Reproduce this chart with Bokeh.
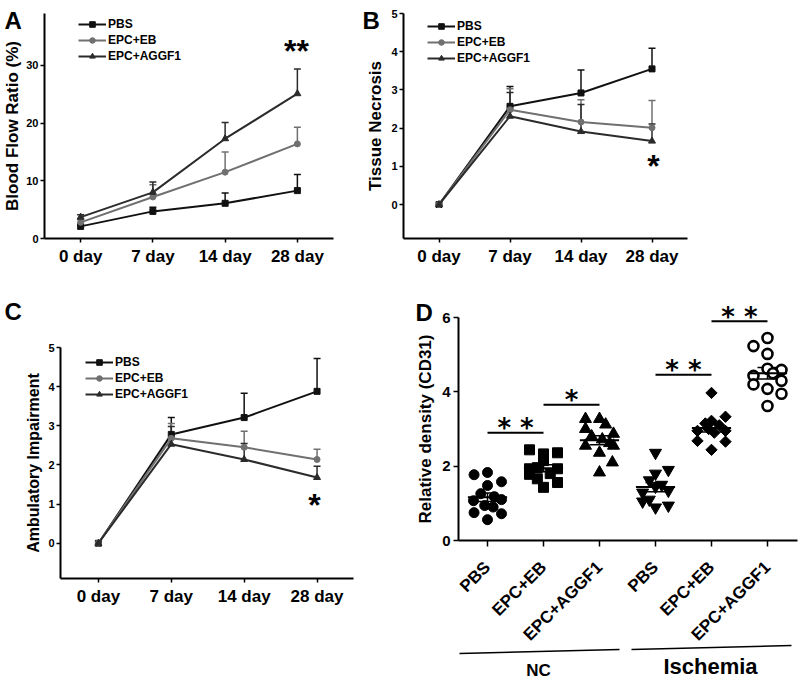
import math
import numpy as np
from bokeh.plotting import figure
from bokeh.models import (ColumnDataSource, Whisker, TeeHead, Legend, LegendItem,
                          Label, Arrow, FixedTicker, Range1d)
from bokeh.layouts import row, column
from bokeh.embed import file_html
from bokeh.resources import INLINE
from bokeh.core.properties import value

# ---------------- data ----------------
days = ["0 day", "7 day", "14 day", "28 day"]
groups = ["PBS", "EPC+EB", "EPC+AGGF1"]

blood_flow_pbs = [2.1, 4.7, 6.1, 8.3]
blood_flow_pbs_err = [0.3, 0.7, 1.8, 2.8]
blood_flow_eb = [2.8, 7.2, 11.5, 16.4]
blood_flow_eb_err = [0.5, 2.1, 3.5, 2.9]
blood_flow_aggf1 = [3.7, 8.0, 17.3, 25.1]
blood_flow_aggf1_err = [0.4, 1.8, 2.8, 4.3]

necrosis_pbs = [0.0, 2.57, 2.92, 3.55]
necrosis_pbs_err = [0.0, 0.52, 0.60, 0.54]
necrosis_eb = [0.0, 2.48, 2.16, 2.01]
necrosis_eb_err = [0.0, 0.55, 0.58, 0.71]
necrosis_aggf1 = [0.0, 2.31, 1.91, 1.66]
necrosis_aggf1_err = [0.0, 0.62, 0.71, 0.45]

ambulatory_pbs = [0.0, 2.78, 3.21, 3.88]
ambulatory_pbs_err = [0.0, 0.43, 0.62, 0.84]
ambulatory_eb = [0.0, 2.68, 2.45, 2.14]
ambulatory_eb_err = [0.0, 0.38, 0.41, 0.26]
ambulatory_aggf1 = [0.0, 2.53, 2.14, 1.68]
ambulatory_aggf1_err = [0.0, 0.45, 0.41, 0.29]

density_labels = ["PBS", "EPC+EB", "EPC+AGGF1", "PBS", "EPC+EB", "EPC+AGGF1"]
conditions = ["NC", "Ischemia"]

density_nc_pbs = [1.77, 1.83, 1.58, 1.48, 1.26, 1.18, 1.07, 1.10, 0.94, 0.90, 0.75, 0.72, 0.56]
density_nc_pbs_jitter = [-0.24, 0.0, 0.25, 0.0, -0.12, 0.12, -0.25, 0.25, -0.05, 0.1, -0.24, 0.25, 0.0]
density_nc_eb = [2.44, 2.33, 2.36, 2.15, 1.96, 1.93, 1.93, 1.80, 1.78, 1.66, 1.56, 1.43]
density_nc_eb_jitter = [-0.25, 0.0, 0.25, 0.0, -0.11, -0.25, 0.25, 0.12, -0.25, -0.11, 0.25, 0.0]
density_nc_aggf1 = [3.27, 3.27, 3.12, 3.00, 2.87, 2.80, 2.72, 2.62, 2.55, 2.55, 2.36, 2.10, 1.83]
density_nc_aggf1_jitter = [-0.25, 0.0, 0.11, -0.25, 0.25, -0.14, 0.05, 0.18, -0.25, 0.25, 0.0, 0.23, 0.0]
density_is_pbs = [2.36, 1.90, 1.80, 1.62, 1.50, 1.45, 1.34, 1.29, 1.10, 1.05, 0.94, 0.89]
density_is_pbs_jitter = [0.0, 0.23, 0.0, -0.11, 0.11, 0.0, 0.23, -0.23, -0.11, -0.23, 0.23, 0.0]
density_is_eb = [3.97, 3.33, 3.22, 3.15, 3.10, 3.00, 2.95, 2.95, 2.90, 2.68, 2.66, 2.44]
density_is_eb_jitter = [0.0, 0.25, 0.0, -0.11, 0.14, -0.05, -0.25, 0.25, 0.05, -0.25, 0.25, 0.0]
density_is_aggf1 = [5.45, 5.23, 5.02, 4.62, 4.59, 4.50, 4.43, 4.30, 4.20, 4.08, 3.95, 3.62]
density_is_aggf1_jitter = [0.0, -0.25, 0.0, 0.0, 0.25, 0.1, -0.25, 0.25, -0.25, 0.0, 0.25, 0.0]

# significance: (group a, group b, stars, bar level)
density_sig = [(0, 1, "* *", 2.90), (1, 2, "*", 3.65), (3, 4, "* *", 4.46), (4, 5, "* *", 5.90)]

# ---------------- layout geometry (page pixels) ----------------
FONT = "Liberation Sans"
# axis box of each panel in page pixels and the data values at its edges
FRAMES = {
    "A": dict(left=44, right=333, top=13, bottom=238, x=(-0.5, 3.5), y=(0, 39)),
    "B": dict(left=403, right=687, top=13, bottom=238, x=(-0.5, 3.5), y=(-0.89, 5.0)),
    "C": dict(left=60, right=353, top=347, bottom=578, x=(-0.52, 3.5), y=(-0.9, 5.0)),
    "D": dict(left=458, right=797, top=317, bottom=540, x=(-0.518, 5.536), y=(0, 6)),
}
# figure boxes on the page: left, top, width, height
BOXES = {
    "A": (0, 0, 360, 290),
    "B": (360, 0, 438, 290),
    "C": (0, 290, 400, 390),
    "D": (400, 290, 398, 390),
}


def to_data(key, px, py):
    f = FRAMES[key]
    x0, x1 = f["x"]
    y0, y1 = f["y"]
    x = x0 + (px - f["left"]) / (f["right"] - f["left"]) * (x1 - x0)
    y = y0 + (f["bottom"] - py) / (f["bottom"] - f["top"]) * (y1 - y0)
    return x, y


def dy_px(key, d):
    f = FRAMES[key]
    y0, y1 = f["y"]
    return d * (y1 - y0) / (f["bottom"] - f["top"])


def make_fig(key):
    f = FRAMES[key]
    bx, by, w, h = BOXES[key]
    xs0, ys0 = to_data(key, bx, by + h)
    xs1, ys1 = to_data(key, bx + w, by)
    p = figure(width=w, height=h, x_range=Range1d(xs0, xs1), y_range=Range1d(ys0, ys1),
               output_backend="svg", toolbar_location=None, tools="",
               min_border_left=0, min_border_right=0, min_border_top=0, min_border_bottom=0)
    p.outline_line_color = None
    p.grid.visible = False
    p.background_fill_color = "white"
    p.border_fill_color = "white"
    p.xaxis.fixed_location = f["y"][0]
    p.yaxis.fixed_location = f["x"][0]
    p.xaxis.bounds = f["x"]
    p.yaxis.bounds = f["y"]
    for ax in p.axis:
        ax.axis_line_width = 2
        ax.axis_line_color = "black"
        ax.major_tick_line_width = 1.5
        ax.major_tick_line_color = "black"
        ax.major_tick_in = 0
        ax.major_tick_out = 4
        ax.minor_tick_line_color = None
        ax.major_label_text_font = FONT
        ax.major_label_text_font_style = "bold"
        ax.major_label_text_color = "black"
        ax.axis_label_text_font = FONT
        ax.axis_label_text_font_style = "bold"
        ax.axis_label_text_color = "black"
    return p


def letter(p, key, text, px, py):
    x, y = to_data(key, px, py)
    p.add_layout(Label(x=x, y=y, text=text, text_font=FONT, text_font_style="bold",
                       text_font_size="24px", text_align="left", text_baseline="alphabetic",
                       text_color="black"))


COLORS = ["#111111", "#707070", "#2b2b2b"]
MARKERS = [("square", 6), ("circle", 6), ("triangle", 7)]


def line_panel(key, series, errs, ylabel, yticks, legend_px, star_text, star_px, letter_px,
               ylabel_size="17px", ylabel_standoff=3):
    p = make_fig(key)
    xs = list(range(len(days)))
    items = []
    for name, ys, es, color, (marker, msize) in zip(groups, series, errs, COLORS, MARKERS):
        wx = [x for x, e in zip(xs, es) if e > 0]
        lo = [y for y, e in zip(ys, es) if e > 0]
        hi = [y + e for y, e in zip(ys, es) if e > 0]
        wsrc = ColumnDataSource(dict(x=wx, lo=lo, hi=hi))
        p.add_layout(Whisker(source=wsrc, base="x", lower="lo", upper="hi", dimension="height",
                             line_color=color, line_width=1.5, lower_head=None,
                             upper_head=TeeHead(size=7, line_color=color, line_width=1.5)))
        src = ColumnDataSource(dict(x=xs, y=ys))
        lr = p.line("x", "y", source=src, line_color=color, line_width=2)
        sr = p.scatter("x", "y", source=src, marker=marker, size=msize,
                       fill_color=color, line_color=color)
        items.append(LegendItem(label=value(name), renderers=[lr, sr]))

    bx, by, w, h = BOXES[key]
    lh = 3 * 14 + 2 * 2
    ltop = legend_px[1] - 7
    lx = legend_px[0] - bx
    ly = (by + h) - (ltop + lh)
    leg = Legend(items=items, location=(lx, ly), border_line_color=None,
                 background_fill_alpha=0, label_text_font=FONT, label_text_font_style="bold",
                 label_text_font_size="12px", label_text_color="black",
                 glyph_width=28, glyph_height=14, label_height=14, spacing=2,
                 padding=0, margin=0, label_standoff=2)
    p.add_layout(leg)

    p.xaxis.ticker = FixedTicker(ticks=xs)
    p.xaxis.major_label_overrides = {i: d for i, d in enumerate(days)}
    p.xaxis.major_label_text_font_size = "17px"
    p.xaxis.major_label_standoff = 4
    p.yaxis.ticker = FixedTicker(ticks=yticks)
    p.yaxis.major_label_text_font_size = "11px"
    p.yaxis.major_label_standoff = 2
    p.yaxis.major_tick_out = 4
    p.yaxis.axis_label = ylabel
    p.yaxis.axis_label_text_font_size = ylabel_size
    p.yaxis.axis_label_standoff = ylabel_standoff

    sx, sy = to_data(key, *star_px)
    p.add_layout(Label(x=sx, y=sy, text=star_text, text_font=FONT, text_font_style="bold",
                       text_font_size="32px", text_align="center", text_baseline="alphabetic",
                       text_color="black"))
    letter(p, key, key, *letter_px)
    return p


pA = line_panel("A", [blood_flow_pbs, blood_flow_eb, blood_flow_aggf1],
                [blood_flow_pbs_err, blood_flow_eb_err, blood_flow_aggf1_err],
                "Blood Flow Ratio (%)", [0, 10, 20, 30], (78, 24), "**", (296, 50), (4, 20),
                ylabel_standoff=1)
pB = line_panel("B", [necrosis_pbs, necrosis_eb, necrosis_aggf1],
                [necrosis_pbs_err, necrosis_eb_err, necrosis_aggf1_err],
                "Tissue Necrosis", [0, 1, 2, 3, 4, 5], (427, 26), "*", (653, 165), (362, 20))
pC = line_panel("C", [ambulatory_pbs, ambulatory_eb, ambulatory_aggf1],
                [ambulatory_pbs_err, ambulatory_eb_err, ambulatory_aggf1_err],
                "Ambulatory Impairment", [0, 1, 2, 3, 4, 5], (85, 362), "*", (314, 504), (4, 311),
                ylabel_size="16px")

# ---------------- panel D ----------------
pD = make_fig("D")
d_sets = [
    (density_nc_pbs, density_nc_pbs_jitter, dict(marker="circle", size=10, fill_color="black", line_color="black")),
    (density_nc_eb, density_nc_eb_jitter, dict(marker="square", size=10, fill_color="black", line_color="black")),
    (density_nc_aggf1, density_nc_aggf1_jitter, dict(marker="triangle", size=12, fill_color="black", line_color="black")),
    (density_is_pbs, density_is_pbs_jitter, dict(marker="inverted_triangle", size=12, fill_color="black", line_color="black")),
    (density_is_eb, density_is_eb_jitter, dict(marker="square", size=8, angle=math.pi / 4, fill_color="black", line_color="black")),
    (density_is_aggf1, density_is_aggf1_jitter, dict(marker="circle", size=10, fill_color="white", line_color="black", line_width=2.6)),
]
means, sems = [], []
for i, (vals, jit, style) in enumerate(d_sets):
    src = ColumnDataSource(dict(x=[i + j for j in jit], y=vals))
    pD.scatter("x", "y", source=src, **style)
    arr = np.array(vals)
    means.append(arr.mean())
    sems.append(arr.std(ddof=1) / np.sqrt(len(arr)))

idx = list(range(len(d_sets)))
msrc = ColumnDataSource(dict(x0=[i - 0.35 for i in idx], x1=[i + 0.35 for i in idx], y=means,
                             x=idx, lo=[m - s for m, s in zip(means, sems)],
                             hi=[m + s for m, s in zip(means, sems)]))
pD.segment(x0="x0", x1="x1", y0="y", y1="y", source=msrc, line_color="black", line_width=2)
pD.add_layout(Whisker(source=msrc, base="x", lower="lo", upper="hi", dimension="height",
                      line_color="black", line_width=1.5,
                      lower_head=TeeHead(size=20, line_color="black", line_width=1.5),
                      upper_head=TeeHead(size=20, line_color="black", line_width=1.5)))

ssrc = ColumnDataSource(dict(x0=[a for a, b, s, l in density_sig], x1=[b for a, b, s, l in density_sig],
                             y=[l for a, b, s, l in density_sig]))
pD.segment(x0="x0", x1="x1", y0="y", y1="y", source=ssrc, line_color="black", line_width=2)
for a, b, s, lvl in density_sig:
    pD.add_layout(Label(x=(a + b) / 2, y=lvl + dy_px("D", 4.5), text=s, text_font="DejaVu Sans",
                        text_font_style="bold", text_font_size="26px", text_align="center",
                        text_baseline="alphabetic", text_color="black"))

pD.xaxis.ticker = FixedTicker(ticks=idx)
pD.xaxis.major_label_overrides = {i: t for i, t in enumerate(density_labels)}
pD.xaxis.major_label_orientation = math.pi / 4
pD.xaxis.major_label_text_font_size = "17px"
pD.xaxis.major_label_standoff = 18
pD.xaxis.major_tick_out = 6
pD.yaxis.ticker = FixedTicker(ticks=[0, 2, 4, 6])
pD.yaxis.major_label_text_font_size = "15px"
pD.yaxis.major_label_standoff = 3
pD.yaxis.major_tick_out = 5
pD.yaxis.axis_label = "Relative density (CD31)"
pD.yaxis.axis_label_text_font_size = "17px"
pD.yaxis.axis_label_standoff = 4

# group brackets below the axis
for (px0, py0, px1, py1) in [(459, 653, 619, 649), (631, 649, 791, 645)]:
    x0, y0 = to_data("D", px0, py0)
    x1, y1 = to_data("D", px1, py1)
    pD.add_layout(Arrow(x_start=x0, y_start=y0, x_end=x1, y_end=y1, start=None, end=None,
                        line_color="black", line_width=1.5))
for text, px, py, size in [(conditions[0], 538, 670, "17px"), (conditions[1], 710, 666, "22px")]:
    x, y = to_data("D", px, py)
    pD.add_layout(Label(x=x, y=y, text=text, text_font=FONT, text_font_style="bold",
                        text_font_size=size, text_align="center", text_baseline="alphabetic",
                        text_color="black"))
letter(pD, "D", "D", 415, 312)

layout = column(row(pA, pB), row(pC, pD))
open("out.html", "w").write(file_html(layout, INLINE))
